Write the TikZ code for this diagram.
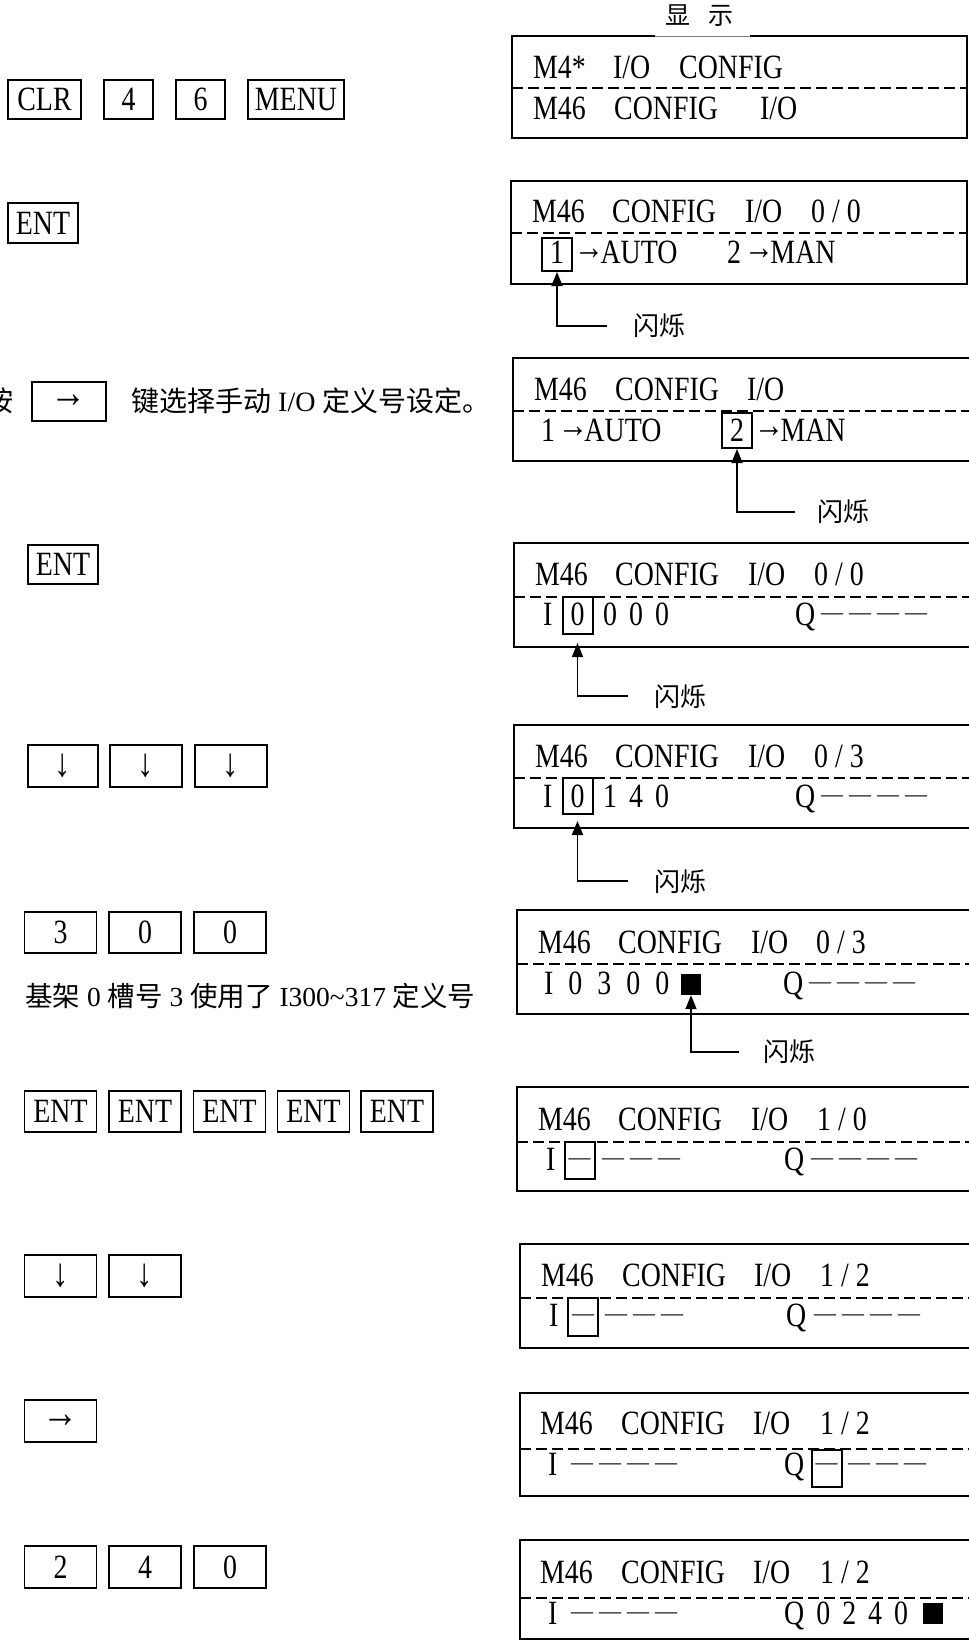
\documentclass[tikz,border=0pt]{standalone}
\usepackage{fontspec}
\setmainfont{Liberation Serif}
\newfontfamily\cjk{Noto Sans CJK SC}
\newfontfamily\lcd[FakeStretch=0.82]{Liberation Serif}
\usetikzlibrary{arrows.meta}
\newcommand\dd{{\rmfamily\fontsize{22}{22}\selectfont\raisebox{6pt}{—}}}
\newcommand\dsep{\kern6pt}
\newcommand\fourd{\dd\dsep\dd\dsep\dd\dsep\dd}
\newcommand\threed{\dd\dsep\dd\dsep\dd}
\newcommand\gp{\hspace{12pt}}
\newcommand\wgp{\hspace{15pt}}
\newcommand\darr{{\fontsize{40}{40}\selectfont ↓}}
\newcommand\rarr{{\fontsize{44}{44}\selectfont →}}
\newcommand\larr{{\fontsize{28}{28}\selectfont\kern-2pt\raisebox{4pt}{\scalebox{1.3}[1.3]{→}}\kern-3.5pt}}
\tikzset{
  key/.style={draw, line width=1.8pt, inner sep=0pt, font=\lcd\fontsize{34}{34}\selectfont},
  lcdt/.style={anchor=base west, inner sep=0pt, font=\lcd\fontsize{34}{34}\selectfont},
  lcdbox/.style={line width=2pt},
  sep/.style={line width=1.8pt, dash pattern=on 11pt off 5pt},
  blink/.style={draw, line width=2pt, inner sep=0pt, minimum width=30pt},
  blk/.style={fill=black, inner sep=0pt, minimum width=20pt, minimum height=21pt},
  flash/.style={inner sep=0pt, font=\cjk\fontsize{26}{26}\selectfont},
  blinkarr/.style={line width=1.8pt, -{Triangle[length=14pt,width=11pt]}},
  note/.style={anchor=west, inner sep=0pt, font=\fontsize{28}{28}\selectfont}
}
\begin{document}
\begin{tikzpicture}[x=1pt,y=-1pt]
\useasboundingbox (0,0) rectangle (969,1641);
\fill[white] (0,0) rectangle (969,1641);

% ---------------- left keys ----------------
\node[key, minimum width=73pt, minimum height=39pt] (kclr) at (44.5,99.5) {CLR};
\node[key, minimum width=49pt, minimum height=39pt] (k4) at (128.5,99.5) {4};
\node[key, minimum width=49pt, minimum height=39pt] (k6) at (200.5,99.5) {6};
\node[key, minimum width=96pt, minimum height=39pt] (kmenu) at (296,99.5) {MENU};

\node[key, minimum width=70pt, minimum height=40pt] (kent1) at (43,223) {ENT};

\node[anchor=east, inner sep=0pt, font=\cjk\fontsize{28}{28}\selectfont] (an) at (14,401) {按};
\node[key, minimum width=74pt, minimum height=39pt] (kr1) at (69,401.5) {\rarr};
\node[note] (t3) at (131,401) {{\cjk 键选择手动} I/O {\cjk 定义号设定。}};

\node[key, minimum width=70pt, minimum height=39pt] (kent2) at (63,564.5) {ENT};

\node[key, minimum width=70pt, minimum height=42pt] (kd1) at (63,766) {\darr};
\node[key, minimum width=72pt, minimum height=42pt] (kd2) at (146,766) {\darr};
\node[key, minimum width=72pt, minimum height=42pt] (kd3) at (231,766) {\darr};

\node[key, minimum width=72pt, minimum height=41pt] (k3a) at (60.5,932.5) {3};
\node[key, minimum width=72pt, minimum height=41pt] (k0a) at (145,932.5) {0};
\node[key, minimum width=72pt, minimum height=41pt] (k0b) at (230,932.5) {0};
\node[note, font=\fontsize{27.5}{27.5}\selectfont] (t6) at (25,996) {{\cjk 基架} 0 {\cjk 槽号} 3 {\cjk 使用了} I300\char"007E 317 {\cjk 定义号}};

\node[key, minimum width=72pt, minimum height=41pt] (ke1) at (60.5,1111.5) {ENT};
\node[key, minimum width=72pt, minimum height=41pt] (ke2) at (145,1111.5) {ENT};
\node[key, minimum width=72pt, minimum height=41pt] (ke3) at (229.5,1111.5) {ENT};
\node[key, minimum width=72pt, minimum height=41pt] (ke4) at (313.5,1111.5) {ENT};
\node[key, minimum width=72pt, minimum height=41pt] (ke5) at (397,1111.5) {ENT};

\node[key, minimum width=72pt, minimum height=42pt] (kd4) at (60.5,1276) {\darr};
\node[key, minimum width=72pt, minimum height=42pt] (kd5) at (145,1276) {\darr};

\node[key, minimum width=72pt, minimum height=42pt] (kr2) at (60.5,1421) {\rarr};

\node[key, minimum width=72pt, minimum height=42pt] (k2) at (60.5,1567) {2};
\node[key, minimum width=72pt, minimum height=42pt] (k4b) at (145,1567) {4};
\node[key, minimum width=72pt, minimum height=42pt] (k0c) at (230,1567) {0};

% ---------------- displays ----------------
% D1
\node[inner sep=0pt, font=\cjk\fontsize{25}{25}\selectfont] (title) at (699,16) {显\hspace{18pt}示};
\draw[lcdbox] (655,36) -- (512,36) -- (512,138) -- (967,138) -- (967,36) -- (750,36);
\draw[gray, line width=0.6pt] (655,36) -- (750,36);
\draw[sep] (512,88) -- (967,88);
\node[lcdt] (d1a) at (533,78) {M4*};
\node[lcdt] (d1b) at (613,78) {I/O};
\node[lcdt] (d1c) at (679,78) {CONFIG};
\node[lcdt] (d1d) at (533,119) {M46};
\node[lcdt] (d1e) at (614,119) {CONFIG};
\node[lcdt] (d1f) at (760,119) {I/O};

% D2
\draw[lcdbox] (511,181) rectangle (967,284);
\draw[sep] (511,233) -- (967,233);
\node[lcdt] (d2a) at (532,222) {M46};
\node[lcdt] (d2b) at (612,222) {CONFIG};
\node[lcdt] (d2c) at (745,222) {I/O};
\node[lcdt] (d2d) at (811,222) {0 / 0};
\node[blink, minimum height=33pt] (d2bx) at (557,254.5) {};
\node[lcdt, anchor=base] (d2e) at (557,263) {1};
\node[lcdt] (d2f) at (576,263) {\larr AUTO};
\node[lcdt] (d2h) at (727,263) {2\kern5pt\larr MAN};
\node[flash] (d2fl) at (659,326) {闪烁};
\coordinate (d2k) at (607,326);
\draw[blinkarr] (d2k) -| (d2bx.south);

% D3
\draw[lcdbox] (990,358) -- (513,358) -- (513,461) -- (990,461);
\draw[sep] (513,411) -- (990,411);
\node[lcdt] (d3a) at (534,400) {M46};
\node[lcdt] (d3b) at (615,400) {CONFIG};
\node[lcdt] (d3c) at (747,400) {I/O};
\node[lcdt] (d3d) at (541,441) {1\kern5pt\larr AUTO};
\node[blink, minimum height=35pt] (d3bx) at (737,430.5) {};
\node[lcdt, anchor=base] (d3g) at (737,441) {2};
\node[lcdt] (d3h) at (756,441) {\larr MAN};
\node[flash] (d3fl) at (843,512) {闪烁};
\coordinate (d3k) at (795,512);
\draw[blinkarr] (d3k) -| (d3bx.south);

% D4
\draw[lcdbox] (990,543) -- (514,543) -- (514,647) -- (990,647);
\draw[sep] (514,597) -- (990,597);
\node[lcdt] (d4a) at (535,585) {M46};
\node[lcdt] (d4b) at (615,585) {CONFIG};
\node[lcdt] (d4c) at (748,585) {I/O};
\node[lcdt] (d4d) at (814,585) {0 / 0};
\node[lcdt] (d4e) at (543,625) {I};
\node[blink, minimum height=37pt] (d4bx) at (577.5,615.5) {};
\node[lcdt, anchor=base] (d4f) at (577.5,625) {0};
\node[lcdt] (d4g) at (603,625) {0\gp0\gp0};
\node[lcdt] (d4h) at (795,625) {Q};
\node[lcdt] (d4i) at (821,625) {\fourd};
\node[flash] (d4fl) at (680,697) {闪烁};
\coordinate (d4k) at (628,696);
\draw[blinkarr, shorten >=8pt] (d4k) -| (d4bx.south);

% D5
\draw[lcdbox] (990,725) -- (514,725) -- (514,828) -- (990,828);
\draw[sep] (514,778) -- (990,778);
\node[lcdt] (d5a) at (535,767) {M46};
\node[lcdt] (d5b) at (615,767) {CONFIG};
\node[lcdt] (d5c) at (748,767) {I/O};
\node[lcdt] (d5d) at (814,767) {0 / 3};
\node[lcdt] (d5e) at (543,807) {I};
\node[blink, minimum height=36pt] (d5bx) at (577.5,796) {};
\node[lcdt, anchor=base] (d5f) at (577.5,807) {0};
\node[lcdt] (d5g) at (603,807) {1\gp4\gp0};
\node[lcdt] (d5h) at (795,807) {Q};
\node[lcdt] (d5i) at (821,807) {\fourd};
\node[flash] (d5fl) at (680,882) {闪烁};
\coordinate (d5k) at (628,881);
\draw[blinkarr, shorten >=6pt] (d5k) -| (d5bx.south);

% D6
\draw[lcdbox] (990,910) -- (517,910) -- (517,1014) -- (990,1014);
\draw[sep] (517,964) -- (990,964);
\node[lcdt] (d6a) at (538,953) {M46};
\node[lcdt] (d6b) at (618,953) {CONFIG};
\node[lcdt] (d6c) at (751,953) {I/O};
\node[lcdt] (d6d) at (816,953) {0 / 3};
\node[lcdt] (d6e) at (544,994) {I\wgp0\wgp3\wgp0\wgp0};
\node[blk] (d6sq) at (691,984.5) {};
\node[lcdt] (d6h) at (783,994) {Q};
\node[lcdt] (d6i) at (809,994) {\fourd};
\node[flash] (d6fl) at (789,1052) {闪烁};
\coordinate (d6k) at (739,1052);
\draw[blinkarr] (d6k) -| (d6sq.south);

% D7
\draw[lcdbox] (990,1087) -- (517,1087) -- (517,1191) -- (990,1191);
\draw[sep] (517,1142) -- (990,1142);
\node[lcdt] (d7a) at (538,1130) {M46};
\node[lcdt] (d7b) at (618,1130) {CONFIG};
\node[lcdt] (d7c) at (751,1130) {I/O};
\node[lcdt] (d7d) at (817,1130) {1 / 0};
\node[lcdt] (d7e) at (546,1170) {I};
\node[blink, minimum height=37pt] (d7bx) at (579.5,1160.5) {};
\node[lcdt, anchor=base] (d7f) at (579.5,1170) {\dd};
\node[lcdt] (d7g) at (602,1170) {\threed};
\node[lcdt] (d7h) at (784,1170) {Q};
\node[lcdt] (d7i) at (811,1170) {\fourd};

% D8
\draw[lcdbox] (990,1244) -- (520,1244) -- (520,1348) -- (990,1348);
\draw[sep] (520,1298) -- (990,1298);
\node[lcdt] (d8a) at (541,1286) {M46};
\node[lcdt] (d8b) at (622,1286) {CONFIG};
\node[lcdt] (d8c) at (754,1286) {I/O};
\node[lcdt] (d8d) at (820,1286) {1 / 2};
\node[lcdt] (d8e) at (549,1326) {I};
\node[blink, minimum height=38pt] (d8bx) at (583,1317) {};
\node[lcdt, anchor=base] (d8f) at (583,1326) {\dd};
\node[lcdt] (d8g) at (605,1326) {\threed};
\node[lcdt] (d8h) at (786,1326) {Q};
\node[lcdt] (d8i) at (814,1326) {\fourd};

% D9
\draw[lcdbox] (990,1393) -- (520,1393) -- (520,1496) -- (990,1496);
\draw[sep] (520,1449) -- (990,1449);
\node[lcdt] (d9a) at (540,1434) {M46};
\node[lcdt] (d9b) at (621,1434) {CONFIG};
\node[lcdt] (d9c) at (753,1434) {I/O};
\node[lcdt] (d9d) at (820,1434) {1 / 2};
\node[lcdt] (d9e) at (548,1475) {I};
\node[lcdt] (d9f) at (571,1475) {\fourd};
\node[lcdt] (d9g) at (784,1475) {Q};
\node[blink, minimum height=37pt] (d9bx) at (826.5,1468) {};
\node[lcdt, anchor=base] (d9h) at (826.5,1475) {\dd};
\node[lcdt] (d9i) at (848,1475) {\threed};

% D10
\draw[lcdbox] (990,1540) -- (520,1540) -- (520,1639) -- (990,1639);
\draw[sep] (520,1598) -- (990,1598);
\node[lcdt] (daa) at (540,1583) {M46};
\node[lcdt] (dab) at (621,1583) {CONFIG};
\node[lcdt] (dac) at (753,1583) {I/O};
\node[lcdt] (dad) at (820,1583) {1 / 2};
\node[lcdt] (dae) at (548,1624) {I};
\node[lcdt] (daf) at (571,1624) {\fourd};
\node[lcdt] (dag) at (784,1624) {Q\gp0\gp2\gp4\gp0};
\node[blk] (dasq) at (932.5,1613.5) {};
\end{tikzpicture}
\end{document}
